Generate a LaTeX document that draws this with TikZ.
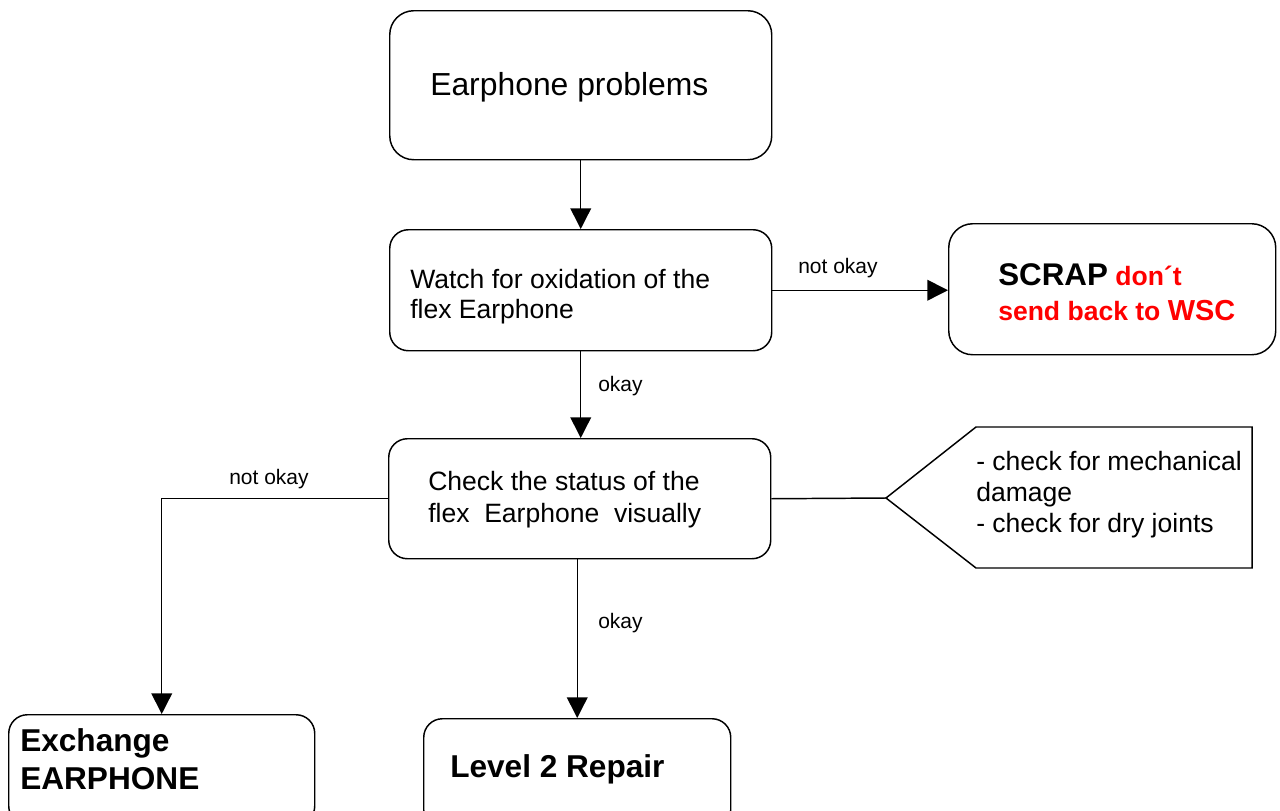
\documentclass[tikz,border=0pt]{standalone}
\usepackage{fontspec}
\setmainfont{Liberation Sans}
\usetikzlibrary{arrows.meta}
\tikzset{
  box/.style={draw=black, line width=1.1pt, rounded corners=14pt, rectangle, inner sep=0pt, anchor=north west},
  txt/.style={anchor=base west, inner sep=0pt, align=left},
  lbl/.style={anchor=base west, inner sep=0pt, font=\fontsize{15.75}{18}\selectfont},
  arr/.style={line width=1.1pt, -{Triangle[length=15.5pt,width=15.5pt]}},
  ln/.style={line width=1.1pt},
}
\definecolor{scrapred}{RGB}{255,0,0}
\begin{document}
\begin{tikzpicture}[x=0.75pt,y=-0.75pt]
\useasboundingbox (0,0) rectangle (1280,810);
\clip (0,0) rectangle (1280,810);
\fill[white] (0,0) rectangle (1280,810);
% boxes
\node[box, minimum width=286.5pt, minimum height=111.75pt, rounded corners=18pt] (top) at (389,10) {};
\node[box, minimum width=286.5pt, minimum height=90.75pt] (watch) at (389,229) {};
\node[box, minimum width=245.25pt, minimum height=98.25pt, rounded corners=18pt] (scrap) at (948,223) {};
\node[box, minimum width=286.5pt, minimum height=90pt] (check) at (388,438) {};
\node[box, minimum width=229.5pt, minimum height=82.5pt] (exch) at (8,714) {};
\node[box, minimum width=230.25pt, minimum height=82.5pt] (lvl) at (423,718) {};
% callout
\coordinate (tip) at (886,498);
\coordinate (ctl) at (976,427);
\coordinate (ctr) at (1252,427);
\coordinate (cbr) at (1252,568);
\coordinate (cbl) at (976,568);
\draw[ln, line join=miter] (tip) -- (ctl) -- (ctr) -- (cbr) -- (cbl) -- cycle;
% texts
\node[txt, font=\fontsize{23.9}{28}\selectfont] (ttop) at (430,95) {Earphone problems};
\node[txt, font=\fontsize{19.9}{22.5}\selectfont] (twatch1) at (410,288) {Watch for oxidation of the};
\node[txt, font=\fontsize{19.9}{22.5}\selectfont] (twatch2) at (410,318) {flex Earphone};
\node[txt, font=\fontsize{19.9}{22.5}\selectfont] (tcheck1) at (428,490) {Check the status of the};
\node[txt, font=\fontsize{19.9}{22.5}\selectfont] (tcheck2) at (428,522) {flex\ \ Earphone\ \ visually};
\node[txt, font=\fontsize{19.9}{22.5}\selectfont] (tcall1) at (976,470) {- check for mechanical};
\node[txt, font=\fontsize{19.9}{22.5}\selectfont] (tcall2) at (976,501) {damage};
\node[txt, font=\fontsize{19.9}{22.5}\selectfont] (tcall3) at (976,532) {- check for dry joints};
\node[txt, font=\bfseries\fontsize{19.9}{22}\selectfont] (tscrap1) at (998,285) {{\fontsize{23.5}{26}\selectfont SCRAP} {\color{scrapred}don´t}};
\node[txt, font=\bfseries\fontsize{19.9}{22}\selectfont, text=scrapred] (tscrap2) at (998,320) {send back to {\fontsize{21.7}{24}\selectfont WSC}};
\node[txt, font=\bfseries\fontsize{23.7}{28}\selectfont] (texch1) at (20,751) {Exchange};
\node[txt, font=\bfseries\fontsize{23.7}{28}\selectfont] (texch2) at (20,789) {EARPHONE};
\node[txt, font=\bfseries\fontsize{23.7}{28}\selectfont] (tlvl) at (450,777) {Level 2 Repair};
% connectors
\draw[arr] (top.south) -- (top.south |- watch.north);
\draw[arr] (watch.east) -- (watch.east -| scrap.west);
\draw[arr] (watch.south) -- (watch.south |- check.north);
\draw[arr] (check.west) -| (exch.north);
\draw[arr] (check.south -| lvl.north) -- (lvl.north);
\draw[ln] (check.east) -- (tip);
% labels
\node[lbl] (l1) at (798,273) {not okay};
\node[lbl] (l2) at (598,391) {okay};
\node[lbl] (l3) at (229,484) {not okay};
\node[lbl] (l4) at (598,628) {okay};
\end{tikzpicture}
\end{document}
